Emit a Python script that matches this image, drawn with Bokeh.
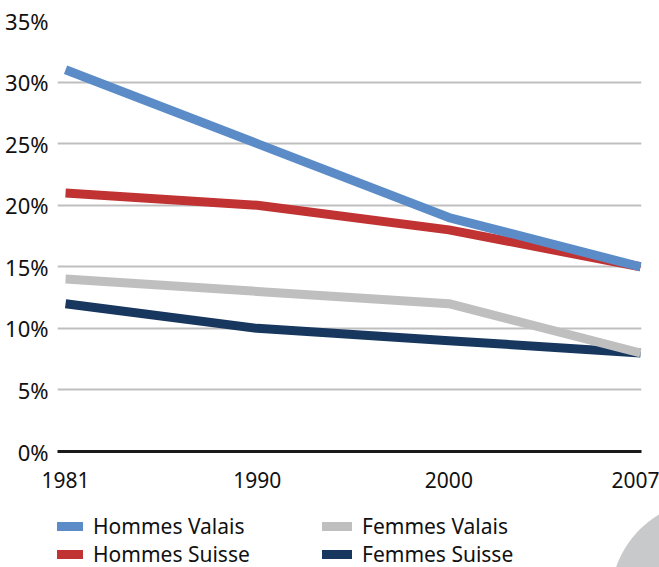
from bokeh.plotting import figure
from bokeh.layouts import column
from bokeh.models import Range1d, FixedTicker, PrintfTickFormatter, Legend, LegendItem, ColumnDataSource
from bokeh.embed import file_html
from bokeh.resources import INLINE

years = ["1981", "1990", "2000", "2007"]
hommes_valais = [31, 25, 19, 15]
hommes_suisse = [21, 20, 18, 15]
femmes_valais = [14, 13, 12, 8]
femmes_suisse = [12, 10, 9, 8]
y_ticks = [0, 5, 10, 15, 20, 25, 30, 35]

series_names = ["Hommes Valais", "Hommes Suisse", "Femmes Valais", "Femmes Suisse"]
series_values = [hommes_valais, hommes_suisse, femmes_valais, femmes_suisse]
series_colors = ["#5B8CC8", "#C13232", "#BFBFBF", "#17375E"]

FONT = "Noto Sans"
xs = list(range(len(years)))

p = figure(width=659, height=500, output_backend="svg", toolbar_location=None,
           x_range=Range1d(-0.042, 3.005), y_range=Range1d(0, 35),
           min_border_left=57, min_border_right=18, min_border_top=20, min_border_bottom=49)
p.outline_line_color = None
p.background_fill_color = "white"
p.border_fill_color = "white"

p.xgrid.visible = False
p.ygrid.ticker = FixedTicker(ticks=y_ticks)
p.ygrid.grid_line_color = "#BFBFBF"
p.ygrid.grid_line_width = 2

p.xaxis.ticker = FixedTicker(ticks=xs)
p.xaxis.major_label_overrides = {i: y for i, y in zip(xs, years)}
p.xaxis.axis_line_color = "#1A1A1A"
p.xaxis.axis_line_width = 3
p.xaxis.major_tick_line_color = None
p.xaxis.minor_tick_line_color = None
p.xaxis.major_label_standoff = 14
p.xaxis.major_label_text_font = FONT
p.xaxis.major_label_text_font_size = "21px"
p.xaxis.major_label_text_color = "#111111"

p.yaxis.ticker = FixedTicker(ticks=y_ticks)
p.yaxis.formatter = PrintfTickFormatter(format="%d%%")
p.yaxis.axis_line_color = None
p.yaxis.major_tick_line_color = None
p.yaxis.minor_tick_line_color = None
p.yaxis.major_label_standoff = 3
p.yaxis.major_label_text_font = FONT
p.yaxis.major_label_text_font_size = "22px"
p.yaxis.major_label_text_color = "#111111"

# draw order: navy, grey, red, blue
for idx in [3, 2, 1, 0]:
    src = ColumnDataSource(dict(x=xs, y=series_values[idx]))
    p.line("x", "y", source=src, line_color=series_colors[idx], line_width=9,
           line_join="round", line_cap="butt")

# legend strip below the chart
circle_css = """
:host {
  background: radial-gradient(circle 100px at 710px 100px, #C8C9CB 99px, rgba(255,255,255,0) 100px), white;
}
"""
lg = figure(width=659, height=67, output_backend="svg", toolbar_location=None,
            x_axis_location=None, y_axis_location=None,
            x_range=Range1d(0, 1), y_range=Range1d(0, 1),
            min_border_left=0, min_border_right=0, min_border_top=0, min_border_bottom=0,
            stylesheets=[circle_css])
lg.outline_line_color = None
lg.background_fill_color = None
lg.border_fill_color = None
lg.grid.visible = False

# legend-only renderers, kept outside the visible range of the strip
hidden_x = [-10, -9]
hidden_y = [-10, -9]
legend_items = []
for idx in [0, 1, 2, 3]:
    r = lg.line(x=hidden_x, y=hidden_y, line_color=series_colors[idx], line_width=9,
                line_cap="round", line_join="round")
    legend_items.append(LegendItem(label=series_names[idx], renderers=[r]))

legend = Legend(items=legend_items, ncols=2, orientation="vertical",
                location=(-4, -1), padding=0, margin=0,
                border_line_color=None, background_fill_alpha=0,
                glyph_width=30, glyph_height=16, label_height=16, label_width=229,
                label_standoff=10, spacing=0,
                label_text_font=FONT, label_text_font_size="21px", label_text_color="#111111")
lg.add_layout(legend)

layout = column(p, lg, spacing=0)
open("out.html", "w").write(file_html(layout, INLINE))
